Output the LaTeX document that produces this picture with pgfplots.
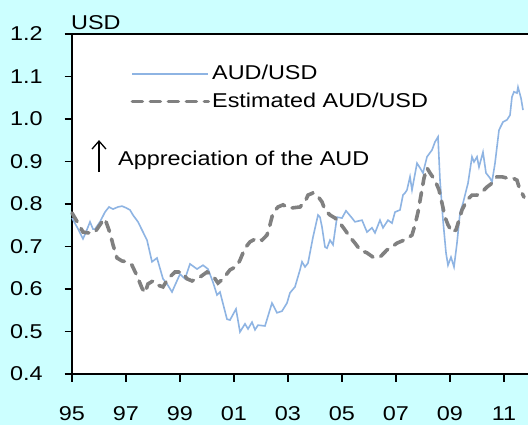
\documentclass[border=0pt]{standalone}
\usepackage{fontspec}
\setmainfont{Liberation Sans}[FakeStretch=1.17]
\usepackage{pgfplots}
\pgfplotsset{compat=1.18}
\usetikzlibrary{arrows.meta}
\definecolor{bgc}{RGB}{204,255,255}
\definecolor{audblue}{RGB}{142,180,227}
\definecolor{estgray}{RGB}{128,128,128}
\begin{document}
\fontsize{20bp}{24bp}\selectfont
\begin{tikzpicture}
\fill[bgc] (-72bp,-51bp) rectangle (456bp,374bp);
\path[use as bounding box] (-72bp,-51bp) rectangle (456bp,374bp);
\begin{axis}[
  at={(0,0)}, anchor=south west,
  scale only axis, width=456bp, height=340bp,
  xmin=1995, xmax=2011.889, ymin=0.4, ymax=1.2,
  axis background/.style={fill=white},
  axis x line*=bottom, axis y line*=left,
  axis line style={line width=1.5bp, black, -},
  xtick={1995,1997,1999,2001,2003,2005,2007,2009,2011},
  xticklabels={95,97,99,01,03,05,07,09,11},
  ytick={0.4,0.5,0.6,0.7,0.8,0.9,1.0,1.1,1.2},
  ticklabel style={font=\fontsize{20bp}{24bp}\selectfont},
  xticklabel style={yshift=-18bp},
  yticklabel style={xshift=-15bp},
  y tick label style={/pgf/number format/.cd, fixed, fixed zerofill, precision=1},
  /pgf/number format/assume math mode=true,
  tick align=outside,
  major tick length=7.5bp,
  every tick/.style={line width=1.4bp, black},
  clip=false,
  legend style={draw=none, fill=none, at={(0.128,0.9147)}, anchor=north west,
    inner sep=0pt, row sep=6bp, font=\fontsize{20bp}{24bp}\selectfont},
  legend cell align=left,
  legend image code/.code={\draw[#1] (0bp,0bp) -- (76bp,0bp);},
]
\addplot[audblue, line width=1.6bp] coordinates {
(1995.000,0.767) (1995.185,0.746) (1995.407,0.718) (1995.519,0.734) (1995.667,0.758)
(1995.778,0.741) (1995.852,0.741) (1996.037,0.758) (1996.222,0.781) (1996.370,0.793)
(1996.519,0.788) (1996.704,0.793) (1996.852,0.795) (1997.000,0.791) (1997.148,0.786)
(1997.259,0.774) (1997.444,0.758) (1997.630,0.734) (1997.778,0.715) (1997.963,0.664)
(1998.148,0.673) (1998.370,0.624) (1998.519,0.612) (1998.704,0.593) (1998.815,0.609)
(1999.000,0.635) (1999.185,0.624) (1999.370,0.659) (1999.630,0.647) (1999.852,0.656)
(2000.037,0.647) (2000.222,0.616) (2000.370,0.586) (2000.481,0.593) (2000.741,0.529)
(2000.852,0.527) (2001.074,0.553) (2001.222,0.499) (2001.407,0.518) (2001.519,0.506)
(2001.667,0.522) (2001.778,0.504) (2001.889,0.515) (2002.148,0.513) (2002.407,0.567)
(2002.593,0.544) (2002.778,0.548) (2002.963,0.567) (2003.074,0.591) (2003.259,0.605)
(2003.444,0.645) (2003.519,0.664) (2003.630,0.652) (2003.741,0.661) (2003.926,0.722)
(2004.111,0.774) (2004.185,0.769) (2004.259,0.746) (2004.370,0.699) (2004.444,0.696)
(2004.556,0.715) (2004.667,0.704) (2004.815,0.769) (2005.000,0.767) (2005.148,0.784)
(2005.370,0.767) (2005.481,0.758) (2005.741,0.762) (2005.926,0.734) (2006.111,0.744)
(2006.222,0.732) (2006.407,0.762) (2006.519,0.744) (2006.704,0.762) (2006.852,0.755)
(2006.963,0.781) (2007.148,0.786) (2007.259,0.821) (2007.333,0.826) (2007.407,0.833)
(2007.519,0.864) (2007.593,0.833) (2007.778,0.896) (2007.889,0.885) (2008.000,0.873)
(2008.148,0.911) (2008.333,0.927) (2008.444,0.946) (2008.556,0.958) (2008.630,0.856)
(2008.741,0.762) (2008.852,0.685) (2008.926,0.656) (2009.037,0.675) (2009.148,0.652)
(2009.259,0.708) (2009.370,0.779) (2009.481,0.802) (2009.667,0.849) (2009.815,0.911)
(2009.889,0.899) (2010.000,0.911) (2010.074,0.887) (2010.222,0.922) (2010.333,0.873)
(2010.481,0.861) (2010.556,0.852) (2010.667,0.896) (2010.815,0.974) (2010.963,0.993)
(2011.111,0.998) (2011.222,1.009) (2011.296,1.052) (2011.370,1.064) (2011.481,1.061)
(2011.519,1.075) (2011.630,1.049) (2011.704,1.021)
};
\addlegendentry{AUD/USD}
\addplot[estgray, line width=3.6bp, line cap=round, dash pattern=on 10bp off 8bp] coordinates {
(1995.000,0.779) (1995.222,0.755) (1995.407,0.734) (1995.593,0.732) (1995.852,0.734)
(1996.111,0.758) (1996.222,0.765) (1996.407,0.732) (1996.519,0.704) (1996.667,0.673)
(1996.852,0.666) (1997.037,0.664) (1997.222,0.656) (1997.407,0.631) (1997.593,0.602)
(1997.704,0.591) (1997.815,0.612) (1998.000,0.619) (1998.185,0.609) (1998.370,0.605)
(1998.556,0.624) (1998.815,0.640) (1999.074,0.640) (1999.259,0.624) (1999.444,0.619)
(1999.741,0.628) (2000.000,0.640) (2000.222,0.631) (2000.407,0.614) (2000.593,0.624)
(2000.852,0.645) (2001.111,0.654) (2001.222,0.668) (2001.407,0.696) (2001.593,0.711)
(2001.852,0.720) (2002.037,0.715) (2002.222,0.727) (2002.333,0.751) (2002.444,0.779)
(2002.630,0.793) (2002.815,0.798) (2003.000,0.791) (2003.185,0.791) (2003.444,0.793)
(2003.630,0.805) (2003.741,0.821) (2003.926,0.826) (2004.074,0.821) (2004.259,0.805)
(2004.370,0.786) (2004.556,0.774) (2004.741,0.767) (2004.926,0.755) (2005.111,0.739)
(2005.296,0.722) (2005.481,0.708) (2005.667,0.692) (2005.926,0.685) (2006.148,0.675)
(2006.407,0.675) (2006.667,0.692) (2006.852,0.699) (2007.037,0.708) (2007.222,0.713)
(2007.407,0.718) (2007.593,0.727) (2007.704,0.751) (2007.815,0.781) (2007.926,0.821)
(2008.037,0.861) (2008.148,0.885) (2008.259,0.873) (2008.444,0.856) (2008.593,0.833)
(2008.704,0.802) (2008.815,0.769) (2008.926,0.751) (2009.074,0.734) (2009.222,0.739)
(2009.333,0.762) (2009.444,0.786) (2009.630,0.809) (2009.815,0.821) (2010.000,0.821)
(2010.185,0.828) (2010.370,0.840) (2010.556,0.849) (2010.741,0.864) (2010.926,0.864)
(2011.111,0.861) (2011.333,0.861) (2011.481,0.856) (2011.556,0.840) (2011.667,0.826)
(2011.741,0.816)
};
\addlegendentry{Estimated AUD/USD}
\draw[line width=1.5bp] (rel axis cs:0,1) -- (rel axis cs:1,1);
\node[anchor=base west, inner sep=0pt] at ([xshift=-1bp,yshift=5bp]rel axis cs:0,1) {USD};
\draw[line width=1.3bp, -{Straight Barb[length=8bp,width=14bp,line width=1.3bp]}] (rel axis cs:0.0592,0.594) -- (rel axis cs:0.0592,0.688);
\node[anchor=west, inner sep=0pt] at (rel axis cs:0.1009,0.629) {Appreciation of the AUD};
\end{axis}
\end{tikzpicture}
\end{document}
